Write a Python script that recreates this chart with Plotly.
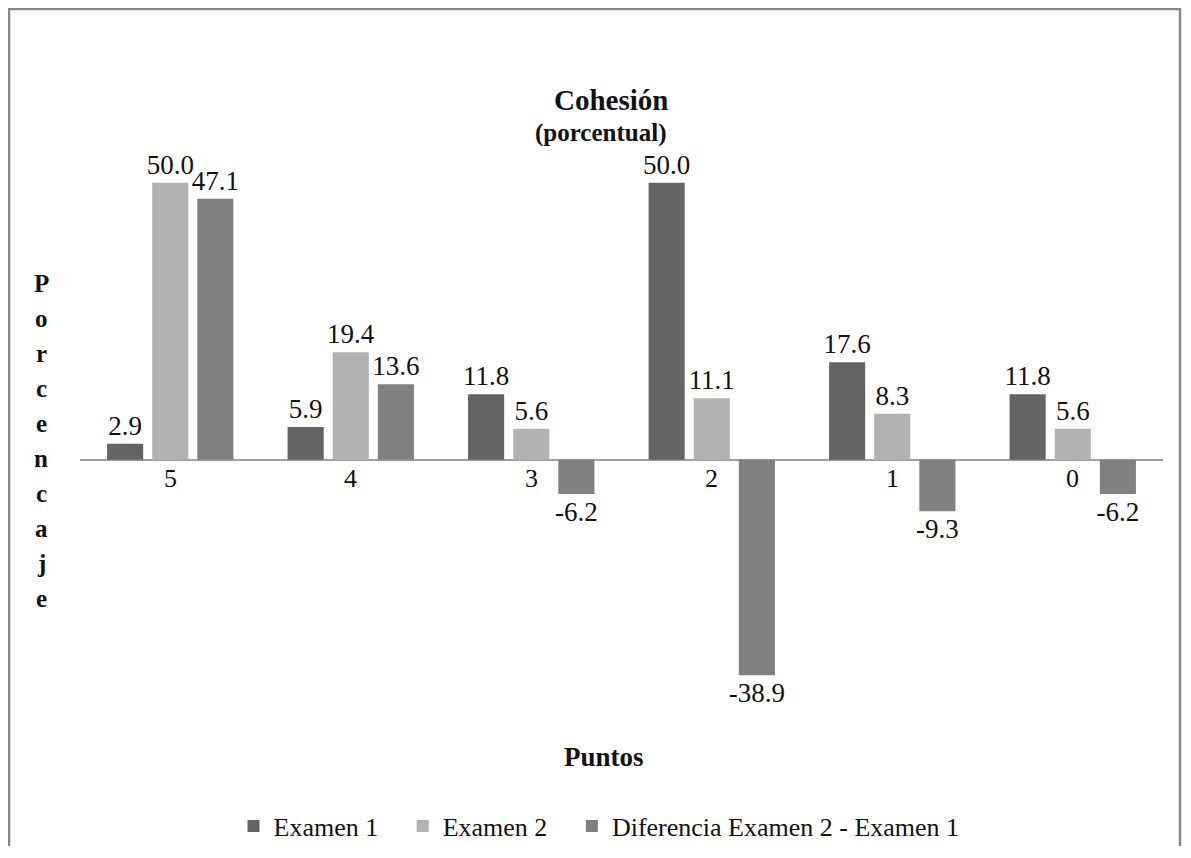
import plotly.graph_objects as go

categories = ["5", "4", "3", "2", "1", "0"]
examen1 = [2.9, 5.9, 11.8, 50.0, 17.6, 11.8]
examen2 = [50.0, 19.4, 5.6, 11.1, 8.3, 5.6]
diferencia = [47.1, 13.6, -6.2, -38.9, -9.3, -6.2]
series_names = ["Examen 1", "Examen 2", "Diferencia Examen 2 - Examen 1"]
series_colors = ["#646464", "#b2b2b2", "#808080"]
ytitle_letters = list("Porcencaje")

FONT = "Liberation Serif, Times New Roman, Times, serif"
OFF = 8  # page body margin
W, H = 1191 - OFF, 858 - 2 * OFF - 4
PX0, PX1, PY0, PY1 = 80, 1163, 155, 709
L, R, T, B = PX0 - OFF, W - (PX1 - OFF), PY0 - OFF, H - (PY1 - OFF)
pw, ph = PX1 - PX0, PY1 - PY0


def px_x(x):
    return (x - PX0) / pw


def px_y(y):
    return (PY1 - y) / ph


PAD = "\u00a0" * 3
fig = go.Figure()
for k, (name, vals, col) in enumerate(zip(series_names, [examen1, examen2, diferencia], series_colors)):
    fig.add_trace(go.Bar(
        x=categories, y=vals, name=name + (PAD if k < 2 else ""),
        marker=dict(color=col, line=dict(width=0)),
        texttemplate="%{y:.1f}", textposition="outside",
        textfont=dict(family=FONT, size=27, color="#111"),
        constraintext="none", cliponaxis=False,
    ))

annotations = []
for i, c in enumerate(categories):
    annotations.append(dict(x=i, y=0, xref="x", yref="y", text=c, showarrow=False,
                            xanchor="center", yanchor="middle",
                            yshift=-19, font=dict(family=FONT, size=26, color="#111")))


def ann(x, y, text, size):
    return dict(x=px_x(x), y=px_y(y), xref="paper", yref="paper", text=text, showarrow=False,
                xanchor="center", yanchor="middle", font=dict(family=FONT, size=size, color="#111"))


annotations.append(ann(611, 100, "<b>Cohesión</b>", 29))
annotations.append(ann(600, 133, "<b>(porcentual)</b>", 25))
for i, ch in enumerate(ytitle_letters):
    annotations.append(ann(41, 283 + 35 * i, f"<b>{ch}</b>", 25))
annotations.append(ann(604, 757, "<b>Puntos</b>", 27))

fig.update_layout(
    width=W, height=H,
    margin=dict(l=L, r=R, t=T, b=B, autoexpand=False),
    paper_bgcolor="white", plot_bgcolor="white",
    barmode="group", bargap=0.25, bargroupgap=0.2,
    font=dict(family=FONT, size=26, color="#111"),
    xaxis=dict(type="category", categoryorder="array", categoryarray=categories,
               showticklabels=False, showgrid=False, showline=False, zeroline=False, ticks=""),
    yaxis=dict(range=[-45, 55], showticklabels=False, showgrid=False, showline=False,
               zeroline=True, zerolinecolor="#a0a0a0", zerolinewidth=1.5, ticks=""),
    showlegend=True,
    legend=dict(orientation="h", x=px_x(599), xanchor="center", y=px_y(826), yanchor="middle",
                font=dict(family=FONT, size=26, color="#111"), itemwidth=30,
                traceorder="normal", bgcolor="rgba(0,0,0,0)"),
    annotations=annotations,
    shapes=[dict(type="rect", xref="paper", yref="paper",
                 x0=px_x(9), x1=px_x(1180), y0=px_y(9), y1=px_y(900),
                 line=dict(color="#878787", width=2.5), fillcolor="rgba(0,0,0,0)", layer="below")],
)

fig.write_html("out.html")
